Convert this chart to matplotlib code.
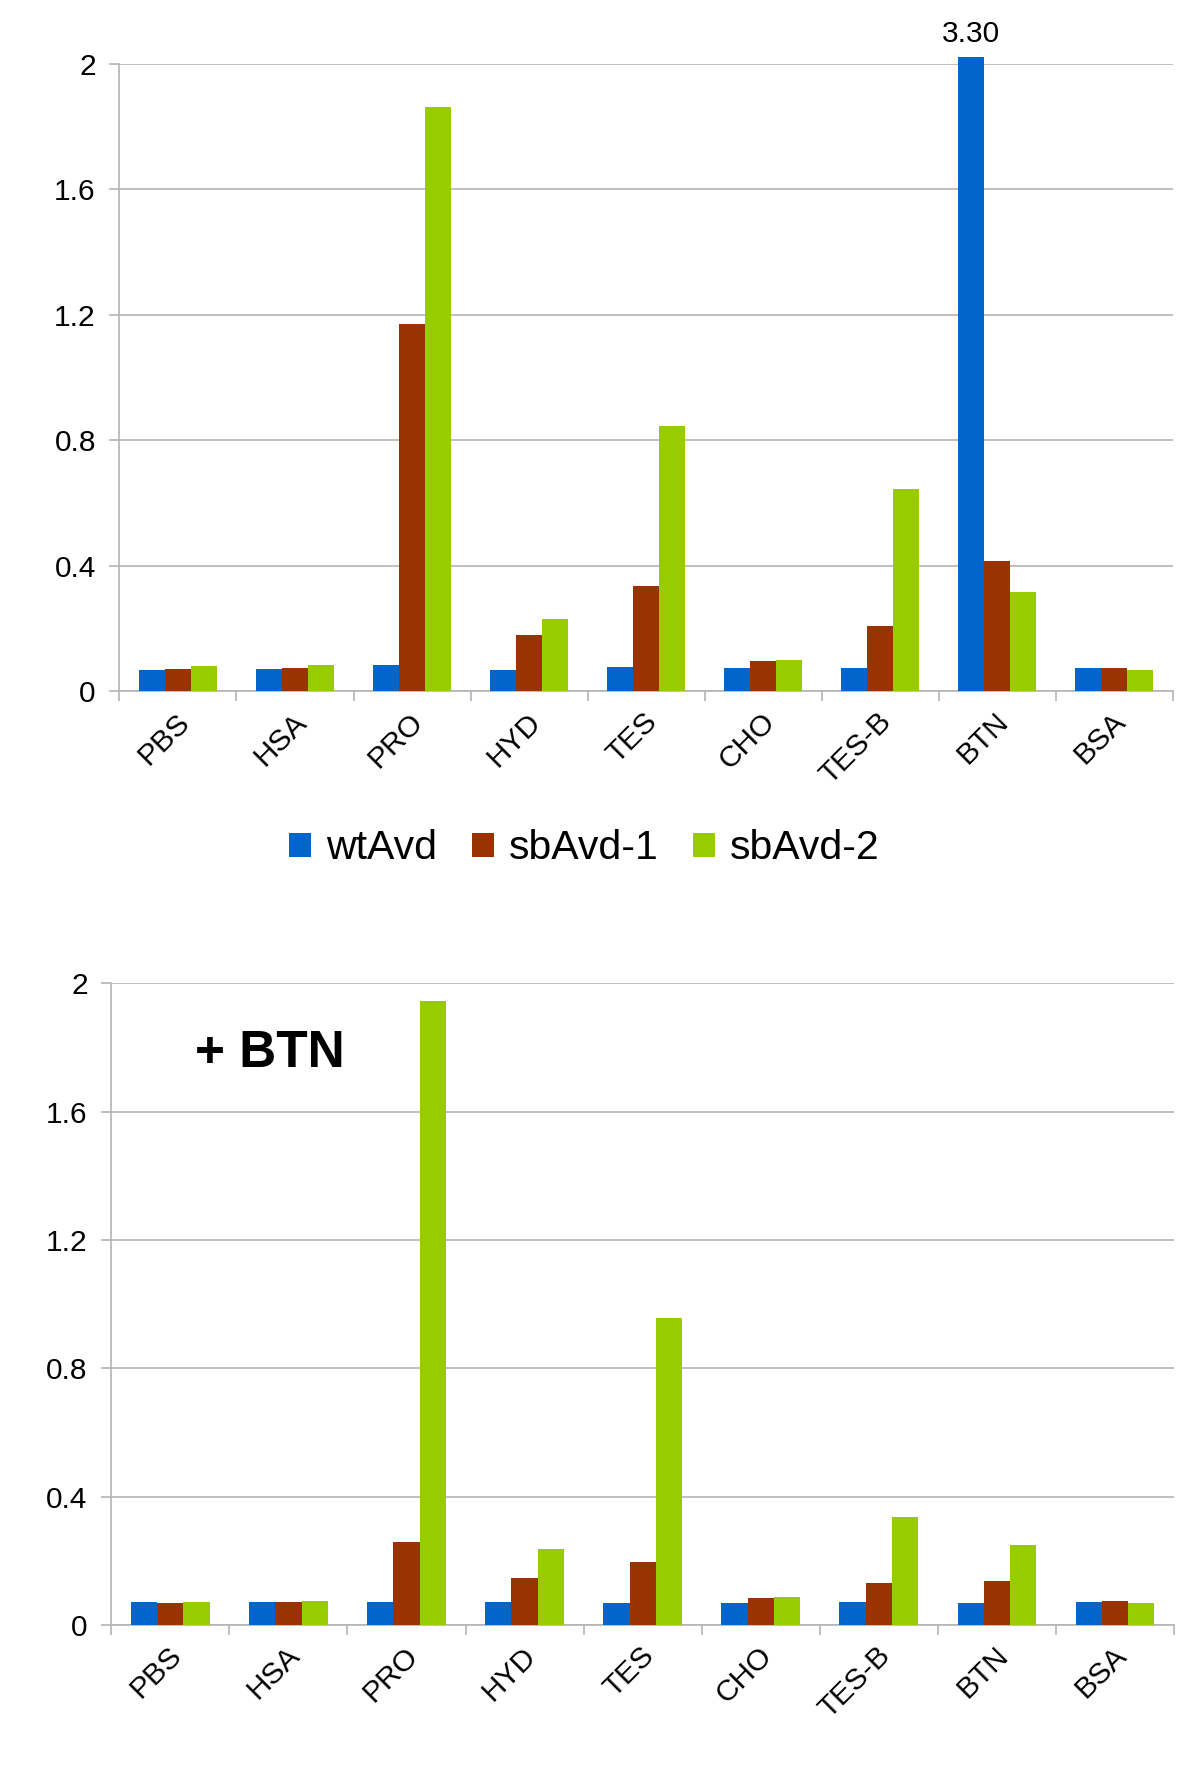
import numpy as np
import matplotlib
matplotlib.use("Agg")
import matplotlib.pyplot as plt
from matplotlib.transforms import ScaledTranslation

plt.rcParams["font.family"] = ["Liberation Sans", "DejaVu Sans"]

# valores
categorias = ["PBS", "HSA", "PRO", "HYD", "TES", "CHO", "TES-B", "BTN", "BSA"]
series = ["wtAvd", "sbAvd-1", "sbAvd-2"]

sem_btn_wt = [0.067, 0.069, 0.082, 0.067, 0.076, 0.075, 0.072, 3.30, 0.072]
sem_btn_sb1 = [0.070, 0.072, 1.169, 0.180, 0.334, 0.095, 0.206, 0.416, 0.075]
sem_btn_sb2 = [0.080, 0.083, 1.862, 0.230, 0.844, 0.098, 0.644, 0.317, 0.067]

com_btn_wt = [0.070, 0.072, 0.070, 0.070, 0.067, 0.067, 0.072, 0.067, 0.070]
com_btn_sb1 = [0.067, 0.072, 0.257, 0.145, 0.195, 0.083, 0.129, 0.137, 0.073]
com_btn_sb2 = [0.072, 0.075, 1.944, 0.237, 0.956, 0.086, 0.336, 0.248, 0.067]

cores = ["#0066CC", "#993300", "#99CC00"]
cinza = "#b4b4b4"
teto = 2.02  # barras maiores que isso ficam cortadas
fonte = 21.5

fig = plt.figure(figsize=(12, 17.82), dpi=100)
ax1 = fig.add_axes([0.0995, 0.6122, 0.878, 0.3521])
ax2 = fig.add_axes([0.0928, 0.0882, 0.8855, 0.3600])


def desenhar(ax, valores):
    x = np.arange(len(categorias))
    largura = 0.222
    barras = []
    for k, (vals, cor, nome) in enumerate(zip(valores, cores, series)):
        alturas = np.minimum(np.array(vals), teto)
        b = ax.bar(x + (k - 1) * largura, alturas, width=largura, color=cor,
                   label=nome, clip_on=False, zorder=3)
        barras.append(b)

    ax.set_xlim(-0.5, len(categorias) - 0.5)
    ax.set_ylim(0, 2)
    ax.set_yticks(np.arange(0, 2.01, 0.4))
    ax.set_yticklabels(["0", "0.4", "0.8", "1.2", "1.6", "2"])
    ax.yaxis.grid(True, color=cinza, linewidth=1.2, zorder=0)

    ax.set_xticks(x)
    ax.set_xticklabels(categorias, rotation=45, ha="right", va="center",
                       rotation_mode="anchor")
    ax.set_xticks(np.arange(-0.5, len(categorias)), minor=True)

    ax.tick_params(axis="y", length=7, width=1.2, color=cinza, pad=10,
                   labelsize=fonte)
    ax.tick_params(axis="x", which="major", length=0, pad=19, labelsize=fonte)
    ax.tick_params(axis="x", which="minor", length=7, width=1.2, color=cinza)

    desloc = ScaledTranslation(7 / 100, 0, fig.dpi_scale_trans)
    for rot in ax.get_xticklabels():
        rot.set_transform(rot.get_transform() + desloc)

    for lado in ["top", "right"]:
        ax.spines[lado].set_visible(False)
    for lado in ["left", "bottom"]:
        ax.spines[lado].set_color(cinza)
        ax.spines[lado].set_linewidth(1.2)
    return barras


barras = desenhar(ax1, [sem_btn_wt, sem_btn_sb1, sem_btn_sb2])
desenhar(ax2, [com_btn_wt, com_btn_sb1, com_btn_sb2])

# rótulo da barra cortada
for i, v in enumerate(sem_btn_wt):
    if v > teto:
        ax1.annotate(f"{v:.2f}", xy=(i - 0.222, teto), xytext=(0, 7),
                     textcoords="offset points", ha="center", va="bottom",
                     fontsize=fonte, annotation_clip=False)

ax2.text(0.0787, 0.8695, "+ BTN", transform=ax2.transAxes, fontsize=37,
         fontweight="bold", ha="left", va="baseline")

fig.legend(handles=barras, labels=series, loc="center",
           bbox_to_anchor=(0.487, 0.524), ncol=3, frameon=False,
           fontsize=29.5, handlelength=0.54, handleheight=0.54,
           handletextpad=0.37, columnspacing=0.83)

fig.savefig("out.png", dpi=100)
